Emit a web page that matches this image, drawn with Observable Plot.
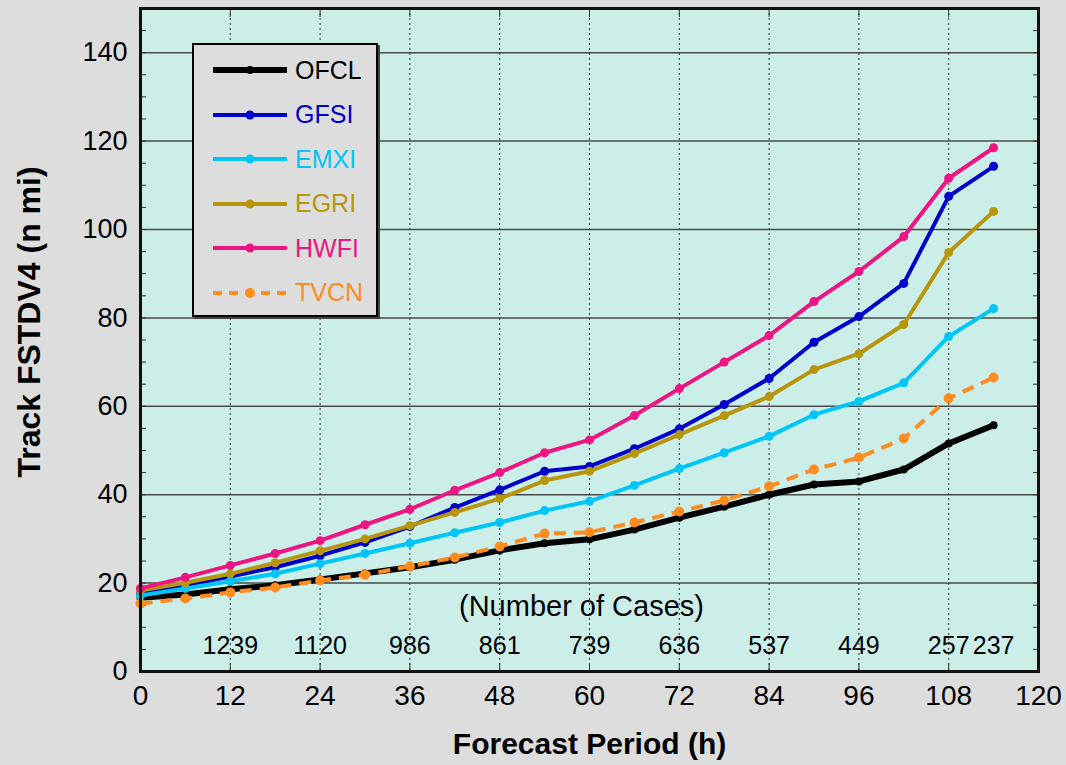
<!DOCTYPE html>
<html>
<head>
<meta charset="utf-8">
<script src="https://cdn.jsdelivr.net/npm/d3@7"></script>
<script src="https://cdn.jsdelivr.net/npm/@observablehq/plot@0.6"></script>
<style>
  html, body { margin: 0; padding: 0; background: #dcdddc; }
  #wrap { position: relative; width: 1066px; height: 765px; overflow: hidden; }
  #legend { position: absolute; left: 192px; top: 43px; width: 182px; height: 270px;
            background: #dcdddc; border: 2px solid #000; box-shadow: 2px 2px 0 #444; }
  .row { position: absolute; left: 0; height: 30px; display: flex; align-items: center; }
  .row span { font-family: "Liberation Sans", Arial, Helvetica, sans-serif; font-size: 25px; margin-left: 7px; }
</style>
</head>
<body>
<div id="wrap"><div id="legend"></div></div>
<script>
// Forecast hours
const hours = [0, 6, 12, 18, 24, 30, 36, 42, 48, 54, 60, 66, 72, 78, 84, 90, 96, 102, 108, 114];

// Track FSTDV4 (n mi) per model
const OFCL = [16.7, 17.4, 18.6, 19.5, 20.8, 22.2, 23.6, 25.3, 27.4, 29.0, 29.9, 32.1, 34.8, 37.3, 40.0, 42.3, 43.0, 45.7, 51.6, 55.7];
const GFSI = [17.8, 19.5, 21.5, 23.6, 26.2, 29.2, 32.8, 37.1, 41.1, 45.3, 46.4, 50.4, 54.9, 60.4, 66.3, 74.5, 80.3, 87.8, 107.5, 114.3];
const EMXI = [17.2, 18.8, 20.4, 22.1, 24.4, 26.7, 29.0, 31.4, 33.7, 36.4, 38.5, 42.1, 45.9, 49.5, 53.2, 58.1, 61.1, 65.3, 75.8, 82.1];
const EGRI = [18.3, 20.1, 22.1, 24.6, 27.3, 30.0, 33.0, 36.0, 39.1, 43.2, 45.3, 49.3, 53.6, 57.9, 62.2, 68.3, 71.9, 78.5, 94.8, 104.1];
const HWFI = [18.8, 21.3, 24.0, 26.7, 29.6, 33.2, 36.7, 41.0, 45.0, 49.5, 52.4, 57.9, 64.0, 70.0, 76.0, 83.7, 90.5, 98.4, 111.6, 118.5];
const TVCN = [15.4, 16.5, 17.9, 19.0, 20.6, 21.9, 23.8, 25.8, 28.3, 31.2, 31.5, 33.7, 36.2, 38.7, 41.9, 45.7, 48.4, 52.7, 61.8, 66.5];

// Number of cases
const caseHours = [12, 24, 36, 48, 60, 72, 84, 96, 108, 114];
const caseCounts = ["1239", "1120", "986", "861", "739", "636", "537", "449", "257", "237"];

const xTicks = [0, 12, 24, 36, 48, 60, 72, 84, 96, 108, 120];
const yTicks = [0, 20, 40, 60, 80, 100, 120, 140];
const yMinor = d3.range(0, 151, 5);

const seriesNames = ["OFCL", "GFSI", "EMXI", "EGRI", "HWFI", "TVCN"];
const seriesValues = [OFCL, GFSI, EMXI, EGRI, HWFI, TVCN];
const seriesColors = ["#000000", "#0000cd", "#00c6f8", "#b8960c", "#ee1482", "#ff8c1e"];
const seriesWidths = [6, 4, 4, 4, 4, 4];
const seriesDash = [null, null, null, null, null, "12,8"];
const seriesR = [4, 4.5, 4.5, 4.5, 4.5, 5];

const FONT = '"Liberation Sans", Arial, Helvetica, sans-serif';

const marks = [
  Plot.frame({fill: "#cbeee9"}),
  Plot.gridY(yTicks.filter(d => d > 0), {stroke: "#4a4a4a", strokeOpacity: 1, strokeWidth: 1.5}),
  Plot.gridX(xTicks.filter(d => d > 0 && d < 120), {stroke: "#333", strokeOpacity: 1, strokeDasharray: "2,3", strokeWidth: 1}),
  Plot.axisY({ticks: yMinor, tickSize: -6, text: null, label: null, stroke: "#333"}),
  Plot.axisY({anchor: "right", ticks: yMinor, tickSize: -6, text: null, label: null, stroke: "#333"}),
  Plot.axisX({ticks: xTicks, tickSize: -8, text: null, label: null, stroke: "#333"}),
  Plot.axisX({anchor: "top", ticks: xTicks, tickSize: -8, text: null, label: null, stroke: "#333"}),
  Plot.axisY({ticks: yTicks, tickSize: 0, tickPadding: 13, fontSize: 27, label: null, fill: "#000"}),
  Plot.axisX({ticks: xTicks, tickSize: 0, tickPadding: 14, fontSize: 28, label: null, fill: "#000"}),
  Plot.text(["Forecast Period (h)"], {frameAnchor: "bottom", dy: 82, fontSize: 30, fontWeight: "bold", fill: "#000"}),
  Plot.text(["Track FSTDV4 (n mi)"], {frameAnchor: "left", dx: -111, dy: -18, rotate: -90, textAnchor: "middle", fontSize: 32, fontWeight: "bold", fill: "#000"}),
  Plot.text(caseCounts, {x: caseHours, frameAnchor: "bottom", dy: -18, fontSize: 25, fill: "#000"}),
  Plot.text(["(Number of Cases)"], {frameAnchor: "bottom", dx: -8, dy: -56, fontSize: 29, fill: "#000"})
];

seriesNames.forEach((name, i) => {
  const data = hours.map((h, j) => ({h, v: seriesValues[i][j]}));
  marks.push(Plot.line(data, {x: "h", y: "v", stroke: seriesColors[i], strokeWidth: seriesWidths[i],
    strokeDasharray: seriesDash[i], strokeLinejoin: "round", strokeLinecap: "butt"}));
  marks.push(Plot.dot(data, {x: "h", y: "v", r: seriesR[i], fill: seriesColors[i], stroke: "none"}));
});

marks.push(Plot.frame({stroke: "#111", strokeWidth: 3}));

const chart = Plot.plot({
  width: 1066,
  height: 765,
  marginLeft: 140,
  marginRight: 28,
  marginTop: 8,
  marginBottom: 94,
  style: {background: "transparent", fontFamily: FONT, color: "#000"},
  x: {domain: [0, 120]},
  y: {domain: [0, 150]},
  marks
});

const wrap = document.getElementById("wrap");
wrap.insertBefore(chart, wrap.firstChild);

// Legend
const legend = document.getElementById("legend");
seriesNames.forEach((name, i) => {
  const row = document.createElement("div");
  row.className = "row";
  row.style.top = (10 + i * 44.5) + "px";
  row.style.left = "18px";
  const ns = "http://www.w3.org/2000/svg";
  const svg = document.createElementNS(ns, "svg");
  svg.setAttribute("width", 76);
  svg.setAttribute("height", 30);
  const ln = document.createElementNS(ns, "line");
  ln.setAttribute("x1", 1); ln.setAttribute("x2", 75);
  ln.setAttribute("y1", 15); ln.setAttribute("y2", 15);
  ln.setAttribute("stroke", seriesColors[i]);
  ln.setAttribute("stroke-width", seriesWidths[i]);
  if (seriesDash[i]) ln.setAttribute("stroke-dasharray", "9,7");
  svg.appendChild(ln);
  const c = document.createElementNS(ns, "circle");
  c.setAttribute("cx", 38); c.setAttribute("cy", 15); c.setAttribute("r", seriesR[i]);
  c.setAttribute("fill", seriesColors[i]);
  svg.appendChild(c);
  row.appendChild(svg);
  const sp = document.createElement("span");
  sp.textContent = name;
  sp.style.color = seriesColors[i];
  row.appendChild(sp);
  legend.appendChild(row);
});
</script>
</body>
</html>
